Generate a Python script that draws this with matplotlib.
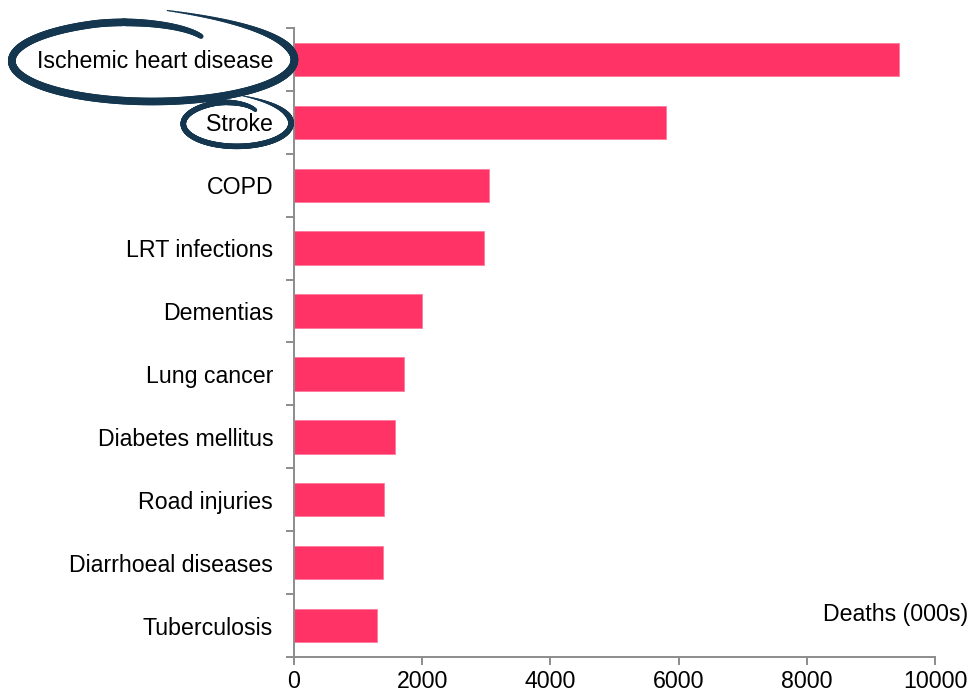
import numpy as np
import matplotlib.pyplot as plt
from matplotlib.collections import LineCollection

plt.rcParams['font.family'] = ['Liberation Sans', 'DejaVu Sans']

causes = ['Ischemic heart disease', 'Stroke', 'COPD', 'LRT infections', 'Dementias',
          'Lung cancer', 'Diabetes mellitus', 'Road injuries', 'Diarrhoeal diseases',
          'Tuberculosis']
deaths = [9440, 5800, 3040, 2960, 2000, 1715, 1570, 1410, 1390, 1295]
circled = ['Ischemic heart disease', 'Stroke']
xticks = [0, 2000, 4000, 6000, 8000, 10000]

W, H = 970, 696
fig = plt.figure(figsize=(W / 100, H / 100), dpi=100)
ax = fig.add_axes([294 / W, 39 / H, 641 / W, 629 / H])

pos = np.arange(len(causes))[::-1]
ax.barh(pos, deaths, height=0.53, color='#ff3366', edgecolor='#ff7a9c', linewidth=0.6)

ax.set_xlim(0, 10000)
ax.set_ylim(-0.5, len(causes) - 0.5)
ax.set_xticks(xticks)
ax.set_yticks(pos)
ax.set_yticklabels(causes)
ax.set_yticks(np.arange(-0.5, len(causes)), minor=True)

grey = '#8c8c8c'
fs = 16.7
for side in ['top', 'right']:
    ax.spines[side].set_visible(False)
for side in ['left', 'bottom']:
    ax.spines[side].set_color(grey)
    ax.spines[side].set_linewidth(1.4)
ax.tick_params(axis='y', which='major', length=0, pad=15, labelsize=fs)
ax.tick_params(axis='y', which='minor', length=5.5, width=1.4, color=grey)
ax.tick_params(axis='x', which='major', length=5.5, width=1.4, color=grey,
               pad=4, labelsize=fs)

fig.text(968 / W, 1 - 615 / H, 'Deaths (000s)', ha='right', va='center', fontsize=fs)

# overlay in pixel units for the hand-drawn loops
ov = fig.add_axes([0, 0, 1, 1], zorder=5)
ov.set_xlim(0, W)
ov.set_ylim(H, 0)
ov.axis('off')


def draw_loop(cx, cy, a, b, lw=5.0, color='#14374f'):
    t = np.linspace(0, 1, 400)
    theta = np.deg2rad(85) - t * np.deg2rad(385)
    shrink = np.clip((t - 0.86) / 0.14, 0, 1) ** 1.6
    r = 1.0 + 0.25 * np.exp(-t / 0.08) - 0.3 * shrink
    x = cx + a * r * np.cos(theta)
    y = cy - b * r * np.sin(theta)
    pts = np.column_stack([x, y]).reshape(-1, 1, 2)
    segs = np.concatenate([pts[:-1], pts[1:]], axis=1)
    tm = 0.5 * (t[:-1] + t[1:])
    widths = lw * np.minimum(1, 0.15 + tm / 0.2) * (1 - 0.35 * np.clip((tm - 0.9) / 0.1, 0, 1))
    lc = LineCollection(segs, linewidths=widths, colors=color, capstyle='round')
    ov.add_collection(lc)


fig.canvas.draw()
renderer = fig.canvas.get_renderer()
pads = {'Ischemic heart disease': (22, 29), 'Stroke': (20, 11)}
for lab in ax.get_yticklabels():
    name = lab.get_text()
    if name in circled:
        bb = lab.get_window_extent(renderer)
        cx = 0.5 * (bb.x0 + bb.x1) - 3
        cy = H - 0.5 * (bb.y0 + bb.y1) - 1
        px, py = pads[name]
        draw_loop(cx, cy, 0.5 * bb.width + px, 0.5 * bb.height + py,
                  lw=5.5 if name == circled[0] else 4.0)

fig.savefig('out.png', dpi=100)
